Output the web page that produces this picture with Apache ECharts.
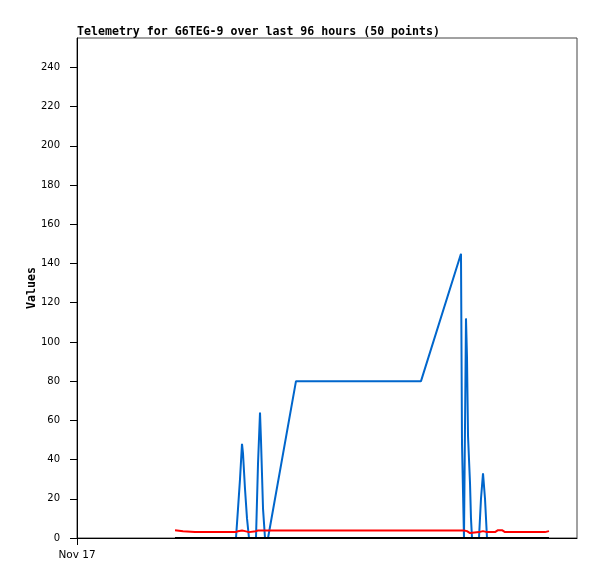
<!DOCTYPE html>
<html><head><meta charset="utf-8">
<script src="https://cdn.jsdelivr.net/npm/echarts@6/dist/echarts.min.js"></script>
<style>html,body{margin:0;padding:0;background:#fff}#c{width:597px;height:579px}</style>
</head><body><div id="c"></div>
<script>
// hours since Nov 17 00:00
var hours = [25.09,27.14,30.21,34.05,37.89,40.70,41.22,41.73,42.24,42.50,43.01,43.52,44.03,45.82,46.34,46.85,47.10,47.62,48.13,48.90,56.06,88.06,98.30,98.56,99.07,99.58,99.84,100.10,100.61,100.86,101.12,102.91,103.42,103.94,104.45,104.96,107.01,107.78,108.29,108.80,109.57,112.13,114.69,117.25,119.81,120.32,120.83];
var blueValues = [0,0,0,0,0,0,15,30,48,43,25,10,0,0,38,64,50,15,0,0,80,80,145,48,0,112,92,52,28,10,0,0,20,33,20,0,0,0,0,0,0,0,0,0,0,0,0];
var redValues = [4,3.5,3,3,3,3,3.5,3.5,3.8,3.8,3.5,3.2,3,3.5,3.8,3.8,3.8,3.8,3.8,3.8,3.8,3.8,3.8,3.8,3.8,3.8,3.5,3,2.5,2.8,3,3,3,3.5,3,3,3,4,3.5,4,3,3,3,3,3,4,3.5];
var blackValues = [0,0,0,0,0,0,0,0,0,0,0,0,0,0,0,0,0,0,0,0,0,0,0,0,0,0,0,0,0,0,0,0,0,0,0,0,0,0,0,0,0,0,0,0,0,0,0];
var xTickValues = [0];
var xTickLabels = ['Nov 17'];
var yTicks = [0,20,40,60,80,100,120,140,160,180,200,220,240];
var titleText = 'Telemetry for G6TEG-9 over last 96 hours (50 points)';
var yName = 'Values';

function pairs(v){ return hours.map(function(h,i){ return [h, v[i]]; }); }

var chart = echarts.init(document.getElementById('c'), null, {renderer:'canvas'});
chart.setOption({
  animation:false,
  backgroundColor:'#fff',
  title:{text:titleText,left:77,top:26,padding:0,textStyle:{fontFamily:'DejaVu Sans Mono',fontWeight:'bold',fontSize:11.6,color:'#000'}},
  grid:{left:77,right:20,top:38,bottom:41,show:true,borderColor:'#444',borderWidth:1,backgroundColor:'transparent'},
  xAxis:{type:'value',min:0,max:128,
    axisLine:{show:true,onZero:false,lineStyle:{color:'#000',width:1}},
    axisTick:{show:true,customValues:xTickValues,length:7,lineStyle:{color:'#000',width:1}},
    axisLabel:{customValues:xTickValues,formatter:function(v){var i=xTickValues.indexOf(v);return i>=0?xTickLabels[i]:'';},color:'#000',fontFamily:'DejaVu Sans',fontSize:10.5,margin:12},
    splitLine:{show:false}},
  yAxis:{type:'value',min:0,max:255,name:yName,nameLocation:'middle',nameGap:39,nameRotate:90,nameMoveOverlap:false,
    nameTextStyle:{fontFamily:'DejaVu Sans Mono',fontWeight:'bold',fontSize:11.6,color:'#000'},
    axisLine:{show:true,lineStyle:{color:'#000',width:1}},
    axisTick:{show:true,customValues:yTicks,length:7,lineStyle:{color:'#000'}},
    axisLabel:{customValues:yTicks,color:'#000',fontFamily:'DejaVu Sans',fontSize:10,margin:17},
    splitLine:{show:false}},
  series:[
    {type:'line',data:pairs(blueValues),showSymbol:false,lineStyle:{color:'#0066cc',width:2},itemStyle:{color:'#0066cc'}},
    {type:'line',data:pairs(redValues),showSymbol:false,lineStyle:{color:'#ff0000',width:2},itemStyle:{color:'#ff0000'}},
    {type:'line',data:pairs(blackValues),showSymbol:false,lineStyle:{color:'#000',width:2},itemStyle:{color:'#000'}}
  ]
});
</script></body></html>
